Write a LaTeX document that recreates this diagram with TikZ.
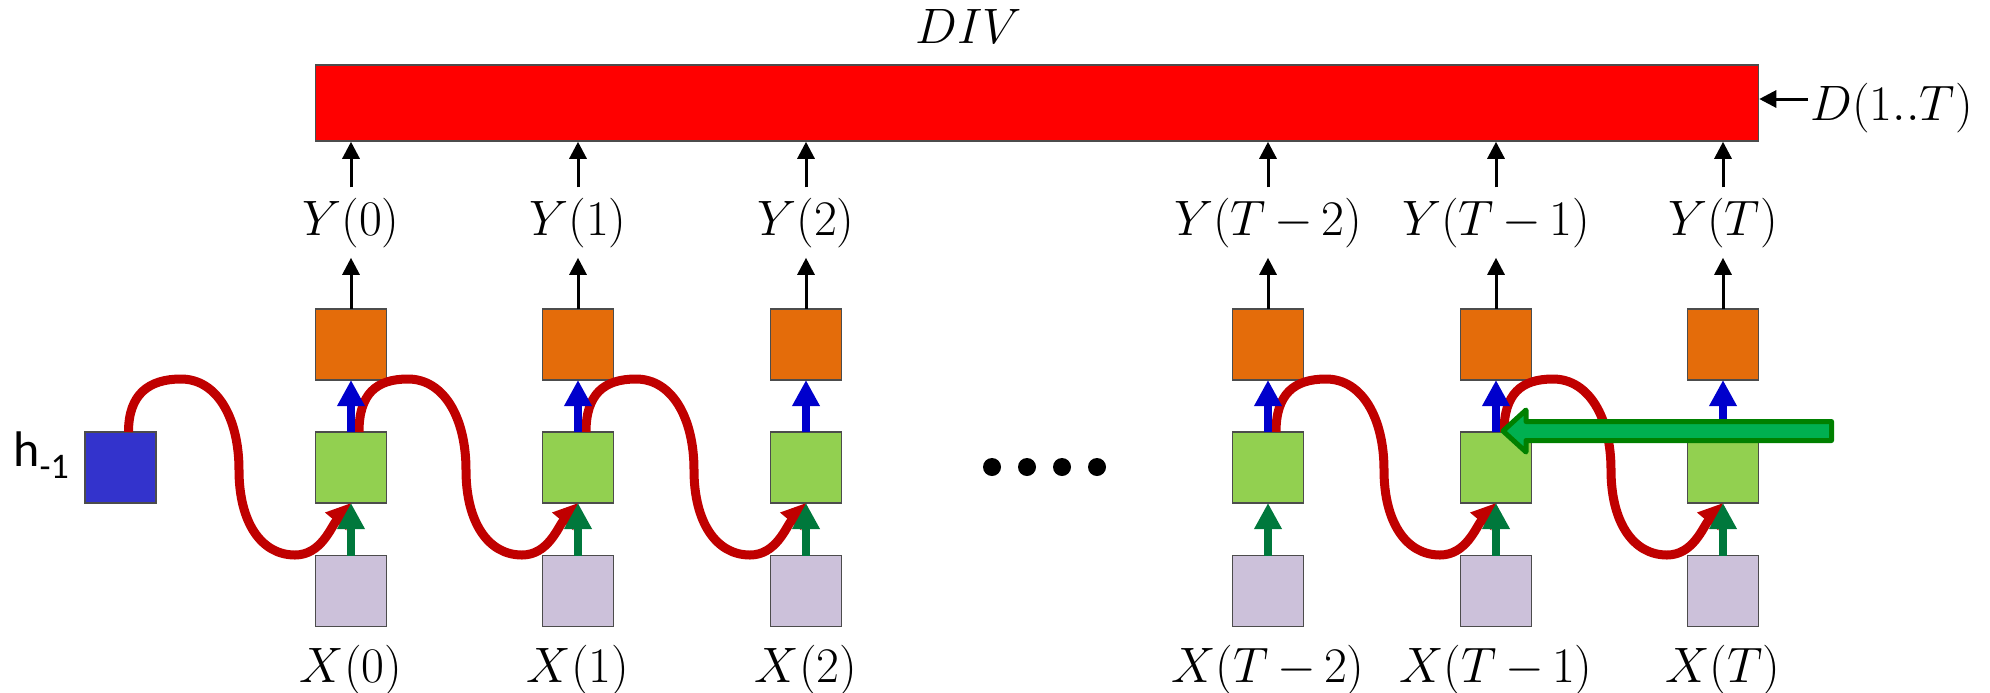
\documentclass[tikz,border=0pt]{standalone}
\usepackage{fontspec}
\newfontfamily\carlito{Carlito}
\usetikzlibrary{arrows.meta,calc}
\definecolor{orangeC}{RGB}{228,108,10}
\definecolor{greenC}{RGB}{146,208,80}
\definecolor{lavC}{RGB}{204,193,218}
\definecolor{hblue}{RGB}{51,51,204}
\definecolor{blueA}{RGB}{0,0,204}
\definecolor{greenA}{RGB}{0,120,60}
\definecolor{redC}{RGB}{192,0,0}
\definecolor{bigfill}{RGB}{0,176,80}
\definecolor{bigline}{RGB}{0,128,0}
\medmuskip=3mu plus 1mu minus 1mu
\begin{document}
\begin{tikzpicture}[x=0.5pt,y=-0.5pt,
  cell/.style={draw=black!70, line width=0.75pt, minimum width=35.5pt, minimum height=35.5pt, inner sep=0pt, outer sep=0pt},
  obox/.style={cell, fill=orangeC},
  gbox/.style={cell, fill=greenC},
  lbox/.style={cell, fill=lavC},
  hbox/.style={cell, fill=hblue},
  lab/.style={inner sep=5pt, font=\fontsize{24pt}{28pt}\selectfont, anchor=base},
  blk/.style={draw=black, line width=1.5pt, -{Triangle[length=8.5pt,width=8.5pt]}},
  bluearr/.style={draw=blueA, line width=4pt, -{Triangle[length=13pt,width=13pt]}},
  grnarr/.style={draw=greenA, line width=4pt, -{Triangle[length=13pt,width=13pt]}},
  rc/.style={draw=redC, line width=4.5pt, -{Triangle[length=12pt,width=13pt]}},
  bigarr/.style={draw=bigline, fill=bigfill, line width=2.5pt, line join=round}
]
\useasboundingbox (0,0) rectangle (1990,692);

% top bar
\node[draw=black!70, line width=0.75pt, fill=red, minimum width=721.5pt, minimum height=38pt, inner sep=0pt] (bar) at (1037,103) {};
\node[lab] (div) at (969,43) {$DIV$};
\node[lab, anchor=base west] (dl) at (1800,120) {$D(1..T)$};
\coordinate (ds) at (1808,99);
\draw[blk] (ds) -- (ds -| bar.east);

% h_{-1}
\node[hbox] (hm) at (120.5,467.5) {};
\node[anchor=base west, inner sep=0pt] (hl) at (13,466) {\carlito\fontsize{25pt}{30pt}\selectfont h\raisebox{-6pt}{\fontsize{18pt}{20pt}\selectfont -1}};

% columns
\foreach \i/\x/\t in {0/351/0, 1/578/1, 2/806/2, 3/1268/T-2, 4/1496/T-1, 5/1723/T} {
  \node[obox] (o\i) at (\x,344.5) {};
  \node[gbox] (g\i) at (\x,467.5) {};
  \node[lbox] (l\i) at (\x,591) {};
  \node[lab] (y\i) at (\x,235) {$Y(\t)$};
  \node[lab] (x\i) at (\x,682) {$X(\t)$};
  \draw[blk] (o\i.north) -- (y\i.south);
  \draw[blk] (y\i.north) -- (y\i.north |- bar.south);
}

% recurrent curves
\foreach \s/\d in {hm/g0, g0/g1, g1/g2, g3/g4, g4/g5} {
  \draw[rc] ($(\s.north)+(8,0)$) .. controls +(0,-38) and +(-32,0) .. ($(\d.south)+(-170,-124)$)
    .. controls +(36,0) and +(0,-52) .. ($(\d.south)+(-112,-33)$)
    .. controls +(0,52) and +(-34,0) .. ($(\d.south)+(-56,52)$)
    .. controls +(26,0) and +(-20,24) .. (\d.south);
}

% vertical arrows
\foreach \i in {0,...,5} {
  \draw[bluearr] (g\i.north) -- (o\i.south);
  \draw[grnarr] (l\i.north) -- (g\i.south);
}

% dots
\foreach \x in {992,1027,1062,1097} \fill (\x,467) circle[radius=4.5pt];

% big green arrow
\coordinate (gt) at ($(g4.north)+(7,-1)$);
\draw[bigarr] (gt) -- ++(23,-21) -- ++(0,11.5) -- ++(305.5,0) -- ++(0,19) -- ++(-305.5,0) -- ++(0,11.5) -- cycle;
\end{tikzpicture}
\end{document}
